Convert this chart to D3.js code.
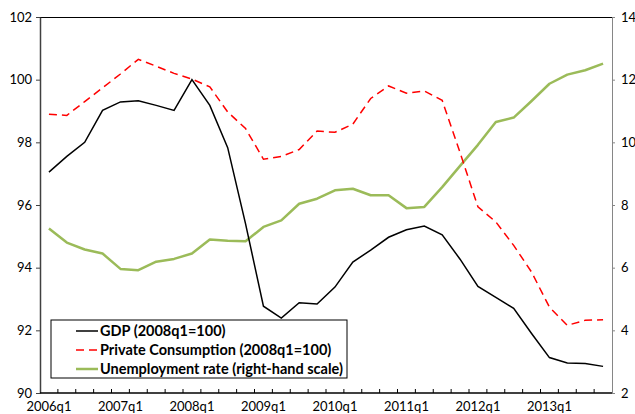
<!DOCTYPE html>
<html>
<head>
<meta charset="utf-8">
<script src="https://cdn.jsdelivr.net/npm/d3@7"></script>
<style>
	body { margin: 0; background: white; }
	svg { display: block; font-family: Lato, 'Liberation Sans', sans-serif; }
</style>
</head>
<body>
<div id="chart"></div>
<script>

// quarters 2006q1 .. 2013q4
var quarters = [];
for (var yr = 2006; yr <= 2013; yr++) {
	for (var q = 1; q <= 4; q++) quarters.push(yr + 'q' + q);
}

var gdp = [97.05, 97.55, 98.0, 99.02, 99.29, 99.33, 99.18, 99.02,
	100.0, 99.18, 97.83, 95.4, 92.77, 92.39, 92.88, 92.84,
	93.38, 94.18, 94.56, 94.97, 95.21, 95.33, 95.05, 94.27,
	93.4, 93.05, 92.7, 91.9, 91.13, 90.96, 90.94, 90.85];

var consumption = [98.9, 98.86, 99.3, 99.74, 100.18, 100.65, 100.43, 100.2,
	100.02, 99.77, 98.97, 98.44, 97.46, 97.55, 97.77, 98.36,
	98.32, 98.58, 99.4, 99.8, 99.57, 99.64, 99.34, 97.67,
	95.94, 95.46, 94.71, 93.86, 92.74, 92.16, 92.32, 92.34];

var unemployment = [7.25, 6.8, 6.58, 6.45, 5.96, 5.92, 6.19, 6.28,
	6.45, 6.9, 6.86, 6.84, 7.3, 7.51, 8.04, 8.2,
	8.47, 8.52, 8.31, 8.31, 7.9, 7.94, 8.57, 9.25,
	9.92, 10.65, 10.79, 11.32, 11.87, 12.16, 12.3, 12.51];

var leftTicks = [90, 92, 94, 96, 98, 100, 102];
var rightTicks = [2, 4, 6, 8, 10, 12, 14];
var labelQuarters = ['2006q1', '2007q1', '2008q1', '2009q1', '2010q1', '2011q1', '2012q1', '2013q1'];

var seriesNames = ['GDP (2008q1=100)', 'Private Consumption (2008q1=100)', 'Unemployment rate (right-hand scale)'];

var width = 635, height = 414;
var margin = {top: 17, right: 23, bottom: 21, left: 40};
var w = width - margin.left - margin.right;
var h = height - margin.top - margin.bottom;

var svg = d3.select('#chart').append('svg')
	.attr('width', width)
	.attr('height', height);

var g = svg.append('g')
	.attr('transform', 'translate(' + margin.left + ',' + margin.top + ')');

var x = d3.scaleBand().domain(quarters).range([0, w]);
var yL = d3.scaleLinear().domain([90, 102]).range([h, 0]);
var yR = d3.scaleLinear().domain([2, 14]).range([h, 0]);

var cx = function(i) { return x(quarters[i]) + x.bandwidth() / 2; };

// top border
g.append('line')
	.attr('x1', 0).attr('x2', w)
	.attr('y1', 0.5).attr('y2', 0.5)
	.attr('stroke', '#000').attr('stroke-width', 1);

// left axis
var leftAxis = g.append('g')
	.call(d3.axisLeft(yL).tickValues(leftTicks).tickSize(4).tickSizeOuter(0).tickPadding(4));
leftAxis.select('.domain').attr('stroke', '#404040').attr('stroke-width', 1.5);
leftAxis.selectAll('.tick line').attr('stroke', '#404040');
leftAxis.selectAll('text').attr('font-size', '13px').attr('fill', '#000').attr('font-family', 'Lato, sans-serif');

// right axis
var rightAxis = g.append('g')
	.attr('transform', 'translate(' + w + ',0)')
	.call(d3.axisRight(yR).tickValues(rightTicks).tickSize(3).tickSizeOuter(0).tickPadding(6));
rightAxis.select('.domain').attr('stroke', '#868686');
rightAxis.selectAll('.tick line').attr('stroke', '#868686');
rightAxis.selectAll('text').attr('font-size', '13px').attr('fill', '#000').attr('font-family', 'Lato, sans-serif');

// bottom axis: ticks between quarters, pointing up
var bottom = g.append('g').attr('transform', 'translate(0,' + h + ')');
bottom.append('line')
	.attr('x1', 0).attr('x2', w)
	.attr('stroke', '#000').attr('stroke-width', 1.5);
bottom.selectAll('.qtick').data(quarters.slice(1)).enter().append('line')
	.attr('class', 'qtick')
	.attr('x1', function(d) { return x(d); })
	.attr('x2', function(d) { return x(d); })
	.attr('y1', 0).attr('y2', -4)
	.attr('stroke', '#000');
bottom.selectAll('.qlabel').data(labelQuarters).enter().append('text')
	.attr('class', 'qlabel')
	.attr('x', function(d) { return x(d) + x.bandwidth() / 2; })
	.attr('y', 17.5)
	.attr('text-anchor', 'middle')
	.attr('font-size', '13px')
	.text(function(d) { return d; });

// lines
var lineL = d3.line().x(function(d, i) { return cx(i); }).y(function(d) { return yL(d); });
var lineR = d3.line().x(function(d, i) { return cx(i); }).y(function(d) { return yR(d); });

g.append('path').datum(unemployment)
	.attr('d', lineR)
	.attr('fill', 'none')
	.attr('stroke', '#9BBB59')
	.attr('stroke-width', 2.5)
	.attr('stroke-linejoin', 'round');

g.append('path').datum(consumption)
	.attr('d', lineL)
	.attr('fill', 'none')
	.attr('stroke', '#FF0000')
	.attr('stroke-width', 1.5)
	.attr('stroke-dasharray', '8,5');

g.append('path').datum(gdp)
	.attr('d', lineL)
	.attr('fill', 'none')
	.attr('stroke', '#000')
	.attr('stroke-width', 1.5);

// legend
var legend = svg.append('g').attr('transform', 'translate(51,320)');
legend.append('rect')
	.attr('width', 296).attr('height', 58)
	.attr('fill', 'white')
	.attr('stroke', '#000').attr('stroke-width', 1);

var legendStyles = [
	{color: '#000', dash: null, sw: 1.5},
	{color: '#FF0000', dash: '8,5', sw: 1.5},
	{color: '#9BBB59', dash: null, sw: 2.5}
];

var items = legend.selectAll('.item').data(seriesNames).enter().append('g')
	.attr('class', 'item')
	.attr('transform', function(d, i) { return 'translate(0,' + (11 + i * 19) + ')'; });

items.append('line')
	.attr('x1', 25).attr('x2', 47)
	.attr('stroke', function(d, i) { return legendStyles[i].color; })
	.attr('stroke-width', function(d, i) { return legendStyles[i].sw; })
	.attr('stroke-dasharray', function(d, i) { return legendStyles[i].dash; });

items.append('text')
	.attr('x', 49)
	.attr('y', 5)
	.attr('font-size', '14.5px')
	.attr('font-weight', 'bold')
	.text(function(d) { return d; });

</script>
</body>
</html>
